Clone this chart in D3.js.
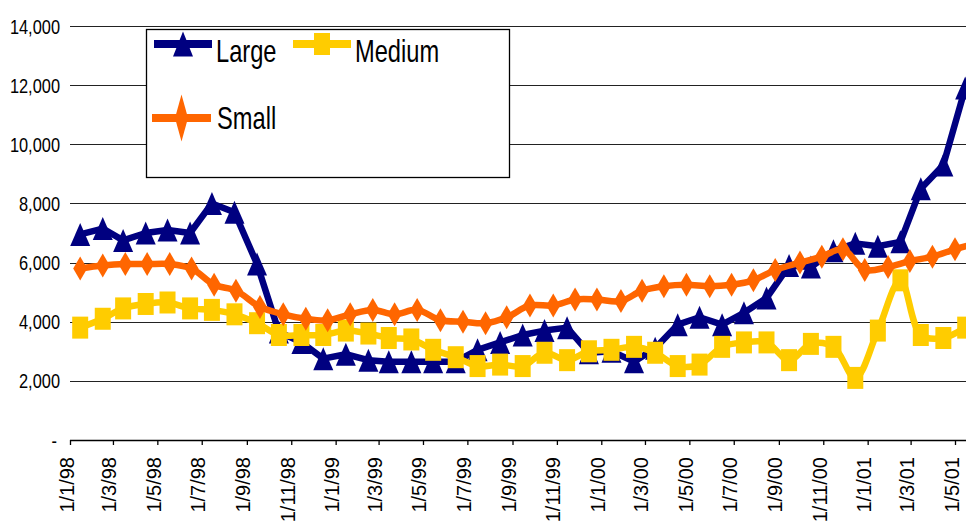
<!DOCTYPE html>
<html>
<head>
<meta charset="utf-8">
<script src="https://cdn.jsdelivr.net/npm/d3@7"></script>
<style>
  body { margin: 0; background: #fff; }
  text { font-family: "Liberation Sans", Arial, sans-serif; fill: #000; }
</style>
</head>
<body>
<div id="chart"></div>
<script>
// monthly dates for Large and Medium
const months = [
  "1998-01-15","1998-02-15","1998-03-15","1998-04-15","1998-05-15","1998-06-15",
  "1998-07-15","1998-08-15","1998-09-15","1998-10-15","1998-11-15","1998-12-15",
  "1999-01-15","1999-02-15","1999-03-15","1999-04-15","1999-05-15","1999-06-15",
  "1999-07-15","1999-08-15","1999-09-15","1999-10-15","1999-11-15","1999-12-15",
  "2000-01-15","2000-02-15","2000-03-15","2000-04-15","2000-05-15","2000-06-15",
  "2000-07-15","2000-08-15","2000-09-15","2000-10-15","2000-11-15","2000-12-15",
  "2001-01-15","2001-02-15","2001-03-15","2001-04-15","2001-05-15"
];
// the Small series sits on its own dates
const smallDates = [
  "1998-01-15","1998-02-15","1998-03-18","1998-04-17","1998-05-18","1998-06-17",
  "1998-07-18","1998-08-17","1998-09-19","1998-10-21","1998-11-21","1998-12-21",
  "1999-01-21","1999-02-21","1999-03-23","1999-04-23","1999-05-25","1999-06-25",
  "1999-07-26","1999-08-24","1999-09-25","1999-10-27","1999-11-26","1999-12-26",
  "2000-01-28","2000-02-26","2000-03-27","2000-04-27","2000-05-29","2000-06-28",
  "2000-07-28","2000-08-27","2000-09-30","2000-10-30","2000-11-28","2000-12-28",
  "2001-01-29","2001-02-28","2001-03-31","2001-05-01","2001-05-31"
];
const large = [6950,7150,6750,7000,7100,7000,8000,7700,5950,3650,3300,2750,
  2900,2700,2650,2650,2650,2650,3050,3300,3550,3700,3800,2950,
  3000,2650,3100,3900,4150,3900,4300,4800,5900,5850,6400,6650,
  6550,6700,8500,9300,11900];
const medium = [3800,4100,4450,4600,4650,4450,4400,4250,3950,3550,3550,3550,
  3700,3600,3450,3400,3050,2800,2500,2550,2500,2950,2700,3000,
  3050,3150,2950,2500,2550,3150,3300,3300,2700,3250,3150,2100,
  3700,5400,3550,3450,3800];
const small = [5800,5900,5950,5950,5950,5800,5250,5050,4500,4250,4100,4050,
  4250,4400,4250,4400,4050,4000,3950,4150,4550,4550,4750,4750,
  4700,5050,5200,5250,5200,5250,5400,5750,6000,6200,6450,5750,
  5850,6050,6200,6450,6650];
const yTicks = [0,2000,4000,6000,8000,10000,12000,14000];
const xTicks = ["1998-01-01","1998-03-01","1998-05-01","1998-07-01","1998-09-01","1998-11-01",
  "1999-01-01","1999-03-01","1999-05-01","1999-07-01","1999-09-01","1999-11-01",
  "2000-01-01","2000-03-01","2000-05-01","2000-07-01","2000-09-01","2000-11-01",
  "2001-01-01","2001-03-01","2001-05-01"];

const w = 966, h = 523;
const parse = d3.timeParse("%Y-%m-%d");

const svg = d3.select("#chart").append("svg")
  .attr("width", w).attr("height", h);

const xScale = d3.scaleTime()
  .domain([parse("1998-01-01"), parse("2001-05-01")])
  .range([70, 955]);
const yScale = d3.scaleLinear()
  .domain([0, 14000])
  .range([440, 26]);

// gridlines
svg.append("g").selectAll("line")
  .data(yTicks.filter(d => d > 0))
  .enter().append("line")
  .attr("x1", 70).attr("x2", w)
  .attr("y1", d => Math.round(yScale(d)) + 0.5)
  .attr("y2", d => Math.round(yScale(d)) + 0.5)
  .attr("stroke", "#222").attr("stroke-width", 1.2);

// y labels (narrow look)
svg.append("g").selectAll("text")
  .data(yTicks)
  .enter().append("text")
  .attr("text-anchor", "end")
  .attr("transform", d => "translate(" + (d === 0 ? 57 : 60) + "," + (yScale(d) + 7.5) + ") scale(0.78,1)")
  .style("font-size", "21px")
  .text(d => d === 0 ? "-" : d3.format(",")(d));

// x axis
const xAxis = d3.axisBottom(xScale)
  .tickValues(xTicks.map(parse))
  .tickSize(5)
  .tickFormat("");
const gx = svg.append("g")
  .attr("transform", "translate(0,440)")
  .call(xAxis);
gx.select(".domain").attr("d", "M70,0.5H" + w).attr("stroke", "#000").attr("stroke-width", 1.3);
gx.selectAll(".tick line").attr("stroke", "#000").attr("stroke-width", 1.3);

svg.append("g").selectAll("text")
  .data(xTicks.map(parse))
  .enter().append("text")
  .attr("text-anchor", "end")
  .attr("transform", d => "translate(" + (xScale(d) + 3.5) + ",457) rotate(-90)")
  .style("font-size", "20px")
  .text(d3.timeFormat("%-d/%-m/%y"));

// marker shapes
const tri = (mw, mh) => `M0,${-mh/2}L${mw/2},${mh/2}L${-mw/2},${mh/2}Z`;
const sq = (mw, mh) => `M${-mw/2},${-mh/2}h${mw}v${mh}h${-mw}Z`;
const dia = (mw, mh) => `M0,${-mh/2}L${mw/2},0L0,${mh/2}L${-mw/2},0Z`;

const series = [
  {name: "Large", dates: months, values: large, color: "#000080", marker: tri(20, 23), legendMarker: tri(20, 25), curve: d3.curveLinear},
  {name: "Medium", dates: months, values: medium, color: "#FFCC00", marker: sq(16, 22), legendMarker: sq(16, 22), curve: d3.curveCatmullRom},
  {name: "Small", dates: smallDates, values: small, color: "#FF6600", marker: dia(14, 24), legendMarker: dia(13, 47), curve: d3.curveCatmullRom}
];

series.forEach(function(s) {
  const pts = s.values.map((v, i) => [xScale(parse(s.dates[i])), yScale(v)]);
  const line = d3.line().curve(s.curve);
  svg.append("path")
    .attr("d", line(pts))
    .attr("fill", "none")
    .attr("stroke", s.color)
    .attr("stroke-width", 6.5)
    .attr("stroke-linejoin", "round");
  svg.append("g").selectAll("path")
    .data(pts)
    .enter().append("path")
    .attr("d", s.marker)
    .attr("transform", d => "translate(" + d[0] + "," + d[1] + ")")
    .attr("fill", s.color);
});

// legend
const legend = svg.append("g");
legend.append("rect")
  .attr("x", 146.5).attr("y", 29.5)
  .attr("width", 363).attr("height", 148)
  .attr("fill", "#fff").attr("stroke", "#000").attr("stroke-width", 1.3);
const legendPos = [
  {x1: 154, x2: 212, y: 44, tx: 216, ty: 62},
  {x1: 293, x2: 351, y: 44, tx: 355, ty: 62},
  {x1: 152, x2: 211, y: 118, tx: 217, ty: 129}
];
series.forEach(function(s, i) {
  const p = legendPos[i];
  legend.append("line")
    .attr("x1", p.x1).attr("x2", p.x2)
    .attr("y1", p.y).attr("y2", p.y)
    .attr("stroke", s.color).attr("stroke-width", 8);
  legend.append("path")
    .attr("d", s.legendMarker)
    .attr("transform", "translate(" + ((p.x1 + p.x2) / 2) + "," + p.y + ")")
    .attr("fill", s.color);
  legend.append("text")
    .attr("transform", "translate(" + p.tx + "," + p.ty + ") scale(0.74,1)")
    .style("font-size", "32px")
    .text(s.name);
});
</script>
</body>
</html>
